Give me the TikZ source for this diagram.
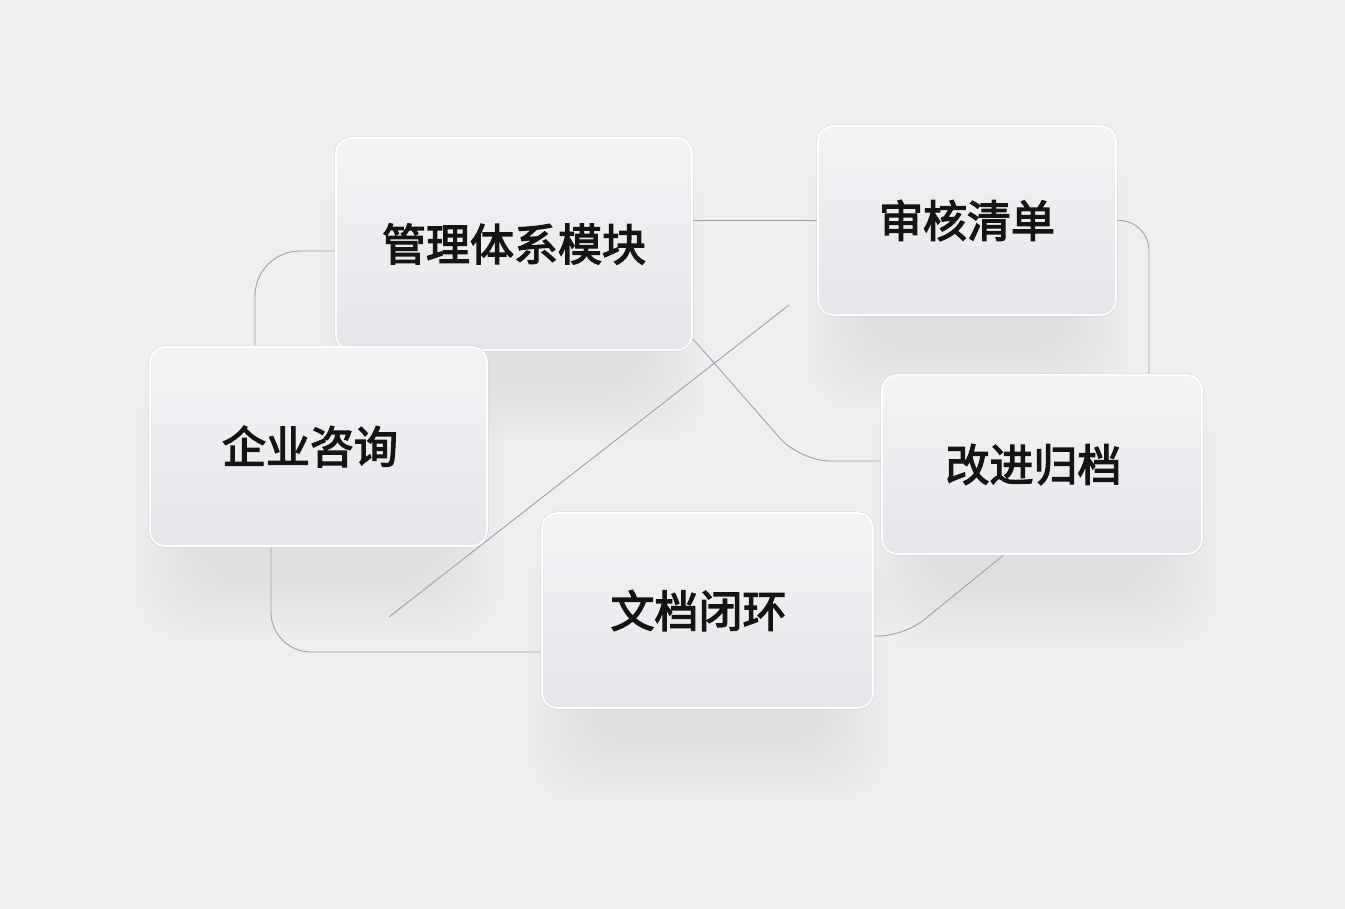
\documentclass[tikz,border=0pt]{standalone}
\usepackage{fontspec}
\usepackage{tikz}
\usetikzlibrary{backgrounds}
\newfontfamily\cjk{Noto Sans CJK SC}[FakeBold=3]
\definecolor{bgcol}{HTML}{EEEFF1}
\definecolor{cardtop}{HTML}{F2F3F5}
\definecolor{cardbot}{HTML}{E5E7EA}
\definecolor{linecol}{HTML}{9DA1A6}

\begin{document}
\begin{tikzpicture}[x=1pt,y=-1pt,
  card/.style={rounded corners=15pt, top color=cardtop, bottom color=cardbot,
    draw=white, line width=1.6pt, preaction={draw=black!18, line width=2.6pt},
    font=\cjk\fontsize{44}{50}\selectfont, text=black!92},
  link/.style={draw=linecol, line width=0.9pt}]
\useasboundingbox (0,0) rectangle (1345,909);
% the five cards
\node[card, minimum width=356pt, minimum height=212pt] (guanli) at (514,244) {管理体系模块};
\node[card, minimum width=298pt, minimum height=189pt] (shenhe) at (967,220.5) {审核清单};
\node[card, minimum width=337pt, minimum height=199pt] (zixun) at (318.5,446.5) {\hspace*{-17pt}企业咨询};
\node[card, minimum width=320pt, minimum height=179pt] (gaijin) at (1042,464.5) {\hspace*{-17pt}改进归档};
\node[card, minimum width=331pt, minimum height=195pt] (wendang) at (707.5,610.5) {\hspace*{-18pt}文档闭环};
\coordinate (xa) at (789,305);
\coordinate (xb) at (389,617);
\coordinate (bend1) at (800,461);
\coordinate (bend2) at (904,636);
\begin{scope}[on background layer]
\fill[bgcol] (0,0) rectangle (1345,909);
% soft shadows under the cards
\foreach \n in {guanli,shenhe,zixun,gaijin,wendang}
  \foreach \k in {1,...,16}
    \fill[black, opacity=0.0055, rounded corners=50pt]
      ([shift={(50-4*\k,90-4*\k)}]\n.north west) rectangle ([shift={(-50+4*\k,30+4*\k)}]\n.south east);
% connectors
\draw[link, rounded corners=45pt] ([yshift=-7pt]guanli.west) -| ([xshift=-63.5pt]zixun.north);
\draw[link] (guanli.east |- shenhe.west) -- (shenhe.west);
\draw[link, rounded corners=30pt] (shenhe.east) -| ([xshift=107pt]gaijin.north);
\draw[link, rounded corners=30pt] ([yshift=12pt]guanli.south east) -- (bend1) -- ([yshift=3.5pt]gaijin.west);
\draw[link] (xa) -- (xb);
\draw[link, rounded corners=40pt] ([xshift=-47.5pt]zixun.south) |- ([yshift=-41.5pt]wendang.west);
\draw[link, rounded corners=25pt] ([yshift=-25.5pt]wendang.east) -- (bend2) -- ([xshift=-38pt]gaijin.south);
\end{scope}
\end{tikzpicture}
\end{document}
